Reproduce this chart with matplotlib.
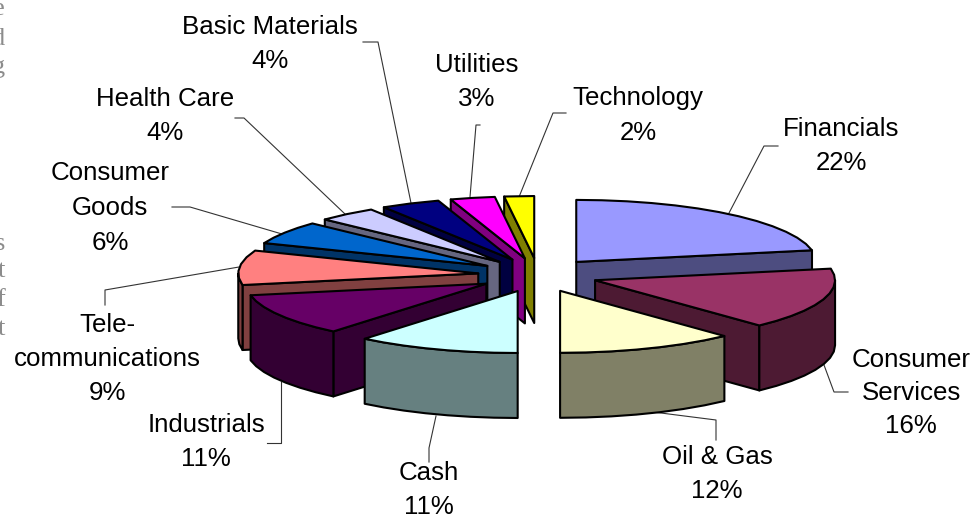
import numpy as np
import matplotlib
matplotlib.use("Agg")
import matplotlib.pyplot as plt
from matplotlib.patches import Polygon

# sector shares in percent, clockwise from 12 o'clock
sectors = ["Financials", "Consumer Services", "Oil & Gas", "Cash", "Industrials",
           "Telecommunications", "Consumer Goods", "Health Care", "Basic Materials",
           "Utilities", "Technology"]
shares = [22, 16, 12, 11, 11, 9, 6, 4, 4, 3, 2]

top_colors = ["#9999FF", "#993366", "#FFFFCC", "#CCFFFF", "#660066", "#FF8080",
              "#0066CC", "#CCCCFF", "#000080", "#FF00FF", "#FFFF00"]
wall_colors = ["#4D4D80", "#4D1A33", "#808066", "#668080", "#330033", "#804040",
               "#003366", "#666680", "#000040", "#800080", "#808000"]

# label text for each sector (same order), then where it sits
label_lines = [["Financials"], ["Consumer", "Services"], ["Oil & Gas"], ["Cash"], ["Industrials"],
               ["Tele-", "communications"], ["Consumer", "Goods"], ["Health Care"],
               ["Basic Materials"], ["Utilities"], ["Technology"]]
label_x = [841, 911, 717, 429, 206, 107, 110, 165, 270, 477, 638]
label_y = [129.5, 360, 456.5, 473, 424.5, 325.5, 173.5, 99.5, 26.5, 65.5, 98.5]
line_gap = [34, 33, 35, 33.5, 35, 34, 34.5, 34, 34, 34, 34]

leader_x = [[729, 764, 778], [824, 834, 848], [653, 716, 716], [436, 429, 429], [281, 281, 267],
            [239, 105, 105], [282, 190, 172], [345, 244, 235], [411, 378, 363], [470, 476, 480],
            [519, 553, 566]]
leader_y = [[213, 146, 146], [365, 392, 392], [412, 420, 440], [416, 448, 462], [382, 443, 443],
            [267, 290, 305], [234, 207, 207], [214, 118, 118], [203, 42, 42], [197, 125, 125],
            [197, 113, 113]]

# bits of body text from the page next to the chart
margin_letters = ["e", "d", "g", "s", "t", "f", "t"]
margin_y = [15, 45, 73, 250, 277, 306, 335]

# pie shape in pixels
cx, cy = 538, 275
rx, ry = 240, 62
explode_x, explode_y = 60, 17
depth = 65
arc_step = 6.0

plt.rcParams["font.family"] = ["Liberation Sans", "DejaVu Sans"]

fig = plt.figure(figsize=(9.73, 5.16), dpi=100)
ax = fig.add_axes([0, 0, 1, 1])
ax.set_xlim(0, 973)
ax.set_ylim(516, 0)
ax.axis("off")


def arc(x0, y0, a, b):
    n = max(int(round((b - a) / arc_step)), 1)
    t = np.radians(np.linspace(a, b, n + 1))
    return np.column_stack([x0 + rx * np.sin(t), y0 - ry * np.cos(t)])


def face(points, color, z):
    ax.add_patch(Polygon(points, closed=True, facecolor=color, edgecolor="black",
                         linewidth=1.5, joinstyle="round", zorder=z))


edges = np.cumsum([0] + shares) * 3.6
mids = (edges[:-1] + edges[1:]) / 2

# back slices first so the front ones cover them
order = np.argsort(-np.cos(np.radians(mids)))
for rank, i in enumerate(order):
    a, b = edges[i], edges[i + 1]
    mid = np.radians(mids[i])
    x0 = cx + explode_x * np.sin(mid)
    y0 = cy - explode_y * np.cos(mid)
    apex = np.array([[x0, y0]])
    down = np.array([0, depth])
    z = 2 + rank

    # cut faces, only the ones turned to the viewer
    if np.sin(np.radians(a)) < -1e-6:
        p = arc(x0, y0, a, a)[:1]
        face(np.vstack([apex, p, p + down, apex + down]), wall_colors[i], z)
    if np.sin(np.radians(b)) > 1e-6:
        p = arc(x0, y0, b, b)[:1]
        face(np.vstack([apex, p, p + down, apex + down]), wall_colors[i], z)

    # rim, the part between 90 and 270 degrees faces front
    lo, hi = max(a, 90), min(b, 270)
    if hi > lo:
        rim = arc(x0, y0, lo, hi)
        face(np.vstack([rim, rim[::-1] + down]), wall_colors[i], z)

    face(np.vstack([apex, arc(x0, y0, a, b)]), top_colors[i], z)

for i in range(len(sectors)):
    ax.plot(leader_x[i], leader_y[i], color="#333333", linewidth=0.8, zorder=1)
    lines = label_lines[i] + [f"{shares[i]}%"]
    for k, line in enumerate(lines):
        ax.text(label_x[i], label_y[i] + k * line_gap[i], line, fontsize=18.6, color="black",
                ha="center", va="center", zorder=20)

for letter, y in zip(margin_letters, margin_y):
    ax.text(5, y, letter, fontsize=19, family=["Liberation Serif"], color="#8C8C8C",
            ha="right", va="baseline", clip_on=True)

fig.savefig("out.png", dpi=100, facecolor="white")
